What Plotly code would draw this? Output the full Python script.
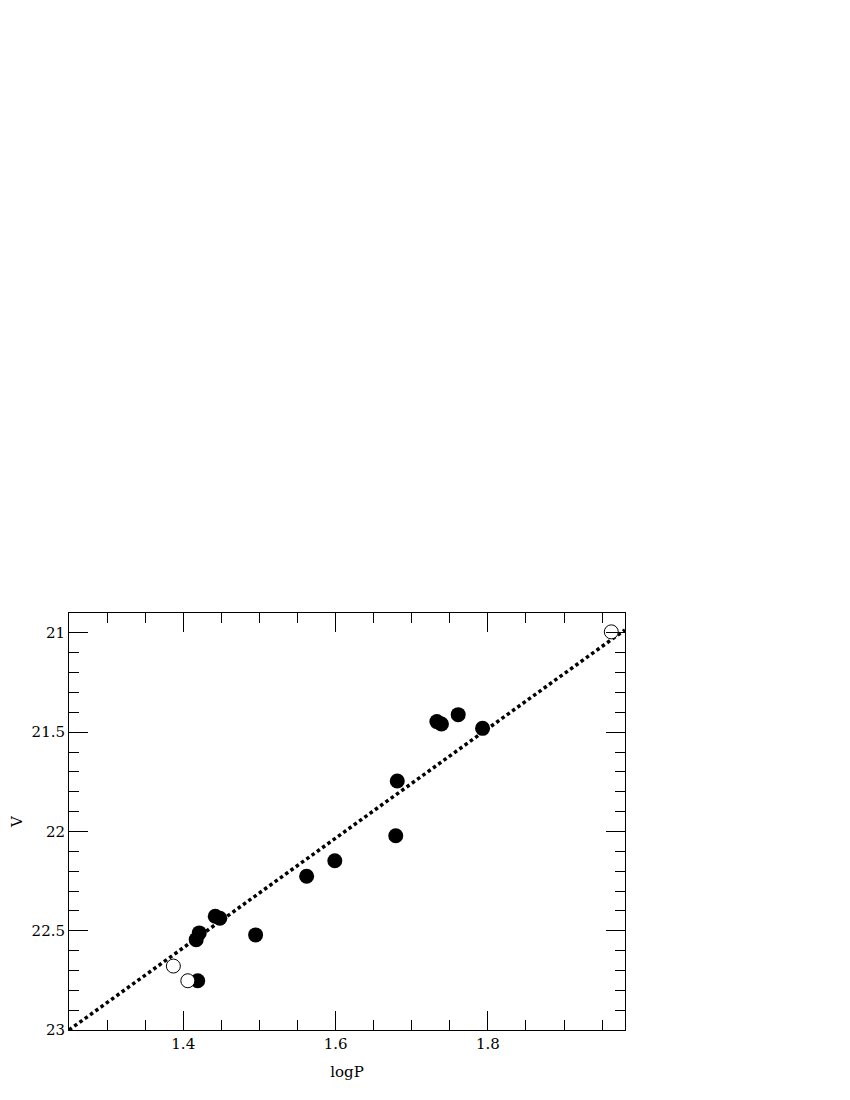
import plotly.graph_objects as go

# filled circles: logP, V
logp_filled = [1.417, 1.421, 1.442, 1.448, 1.419, 1.495, 1.562, 1.599,
               1.679, 1.681, 1.733, 1.739, 1.761, 1.793]
v_filled = [22.545, 22.511, 22.427, 22.437, 22.752, 22.521, 22.226, 22.148,
            22.022, 21.746, 21.447, 21.459, 21.412, 21.481]

# open circles
logp_open = [1.387, 1.406, 1.962]
v_open = [22.678, 22.752, 20.995]

# fitted P-L relation (end points)
fit_logp = [1.25, 1.98]
fit_v = [23.0, 20.985]

serif = "Century Schoolbook, DejaVu Serif, Liberation Serif, serif"

fig = go.Figure()

fig.add_trace(go.Scatter(
    x=fit_logp, y=fit_v, mode="lines",
    line=dict(color="black", width=3.5, dash="3.5px,3px"),
    showlegend=False, hoverinfo="skip"
))

fig.add_trace(go.Scatter(
    x=logp_filled, y=v_filled, mode="markers",
    marker=dict(color="black", size=15, symbol="circle"),
    showlegend=False
))

fig.add_trace(go.Scatter(
    x=logp_open, y=v_open, mode="markers",
    marker=dict(color="white", size=14, symbol="circle",
                line=dict(color="black", width=1)),
    showlegend=False
))

axis_style = dict(
    showgrid=False, zeroline=False, automargin=False,
    showline=True, linecolor="black", linewidth=1,
    mirror="allticks", ticks="inside", ticklen=19,
    tickcolor="black", tickwidth=1,
    tickfont=dict(family=serif, size=15, color="black"),
)

fig.update_xaxes(
    range=[1.25, 1.98], dtick=0.2, tick0=0,
    minor=dict(dtick=0.05, ticks="inside", ticklen=10, tickcolor="black"),
    title=dict(text="logP", font=dict(family=serif, size=15, color="black"),
               standoff=14),
    **axis_style
)
fig.update_yaxes(
    range=[23.0, 20.9], dtick=0.5, tick0=0,
    minor=dict(dtick=0.1, ticks="inside", ticklen=10, tickcolor="black"),
    title=dict(text="V", font=dict(family=serif, size=15, color="black"),
               standoff=16),
    **axis_style
)

# page body has an 8px margin, so plot area offsets are shifted by 8
fig.update_layout(
    width=850, height=1100,
    margin=dict(l=61, r=233, t=605, b=78),
    plot_bgcolor="white", paper_bgcolor="white",
)

fig.write_html("out.html")
